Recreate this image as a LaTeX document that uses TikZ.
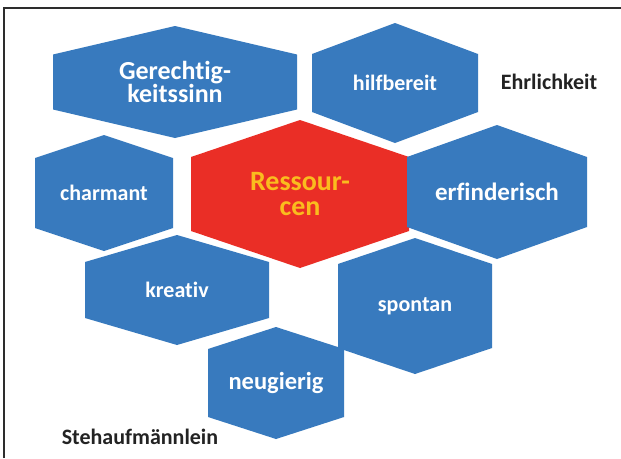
\documentclass[tikz,border=0pt]{standalone}
\usepackage{fontspec}
\setmainfont{Carlito}[Ligatures=NoCommon]
\definecolor{hexblue}{RGB}{56,122,190}
\definecolor{hexred}{RGB}{234,46,38}
\definecolor{hexyellow}{RGB}{250,188,30}
\definecolor{framegray}{RGB}{45,45,45}
\definecolor{labeldark}{RGB}{35,35,35}
\tikzset{
  hexfill/.style={fill=hexblue},
  hexcore/.style={fill=hexred},
  hextext/.style={text=white, align=center, inner sep=0pt, font=\bfseries\fontsize{#1}{26}\selectfont},
  coretext/.style={text=hexyellow, align=center, inner sep=0pt, font=\bfseries\fontsize{#1}{25}\selectfont},
  sidelabel/.style={text=labeldark, font=\bfseries\fontsize{22}{26}\selectfont, inner sep=0pt},
  framerule/.style={draw=framegray, line width=1.6pt}
}
% #1 name, #2 cx, #3 cy, #4 half width, #5 half height, #6 half side, #7 fill style, #8 text style, #9 text
\newcommand\hexg[9]{%
  \fill[#7] ({#2-#4},{#3-#6}) -- ({#2},{#3-#5}) -- ({#2+#4},{#3-#6}) -- ({#2+#4},{#3+#6}) -- ({#2},{#3+#5}) -- ({#2-#4},{#3+#6}) -- cycle;
  \node[#8] (#1) at (#2,#3) {#9};
}
\begin{document}
\begin{tikzpicture}[x=1pt,y=-1pt]
\useasboundingbox[fill=white] (0,0) rectangle (621,458);
\coordinate (fc) at (4,8);
\coordinate (fr) at (621,8);
\coordinate (fb) at (4,458);
\draw[framerule] (fb) -- (fc) -- (fr);

\hexg{gerecht}{175}{82}{122}{56}{27.5}{hexfill}{hextext=26, font=\bfseries\fontsize{26}{23}\selectfont}{Gerechtig-\\keitssinn}
\hexg{hilf}{395}{83}{83}{60}{29}{hexfill}{hextext=22}{hilfbereit}
\hexg{charm}{104}{193}{69}{58}{35}{hexfill}{hextext=22}{charmant}
\hexg{ress}{300}{194}{109}{74}{37}{hexcore}{coretext=28}{Ressour-\\cen}
\hexg{erfind}{497}{192}{90}{67}{35}{hexfill}{hextext=25}{erfinderisch}
\hexg{kreativ}{177}{290}{92}{55}{28}{hexfill}{hextext=22}{kreativ}
\hexg{spontan}{415}{306}{77}{68}{42}{hexfill}{hextext=22}{spontan}
\hexg{neugier}{276}{383}{68}{56}{34}{hexfill}{hextext=24.5}{neugierig}

\node[sidelabel] (ehrlich) at (549,82) {Ehrlichkeit};
\node[sidelabel] (steh) at (140,437) {Stehaufmännlein};
\end{tikzpicture}
\end{document}
